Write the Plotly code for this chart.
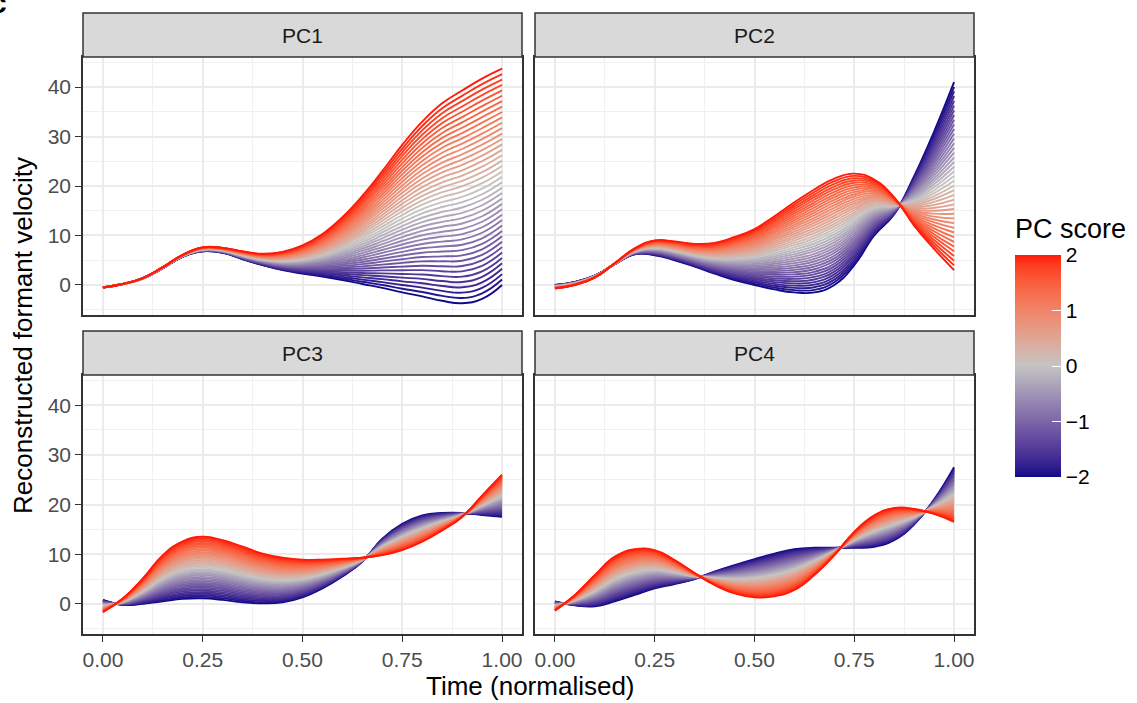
import numpy as np
import plotly.graph_objects as go

# ---------------- data ----------------
time_pts = [0.00, 0.05, 0.10, 0.15, 0.20, 0.25, 0.30, 0.35, 0.40, 0.45, 0.50,
            0.55, 0.60, 0.65, 0.70, 0.75, 0.80, 0.85, 0.90, 0.95, 1.00]

pc_names = ["PC1", "PC2", "PC3", "PC4"]

# reconstructed curve at PC score = +2
pc1_high = [-0.5, 0.2, 1.4, 3.6, 6.1, 7.6, 7.5, 6.8, 6.3, 6.7, 8.0,
            10.3, 13.7, 18.0, 23.0, 28.3, 33.0, 36.7, 39.3, 41.7, 43.7]
pc2_high = [-0.7, 0.0, 1.5, 4.4, 7.4, 9.0, 8.8, 8.3, 8.5, 9.7, 11.3,
            13.9, 16.7, 19.3, 21.5, 22.5, 21.3, 17.7, 12.0, 7.3, 3.0]
pc3_high = [-1.7, 1.1, 5.1, 9.8, 12.6, 13.5, 12.8, 11.5, 10.1, 9.3, 8.9,
            8.9, 9.1, 9.3, 9.8, 10.8, 12.5, 14.8, 17.5, 21.8, 26.0]
pc4_high = [-1.4, 1.8, 5.8, 9.5, 11.0, 10.8, 8.8, 6.2, 3.8, 2.1, 1.3,
            1.5, 2.8, 5.8, 9.8, 14.5, 17.8, 19.3, 19.1, 18.1, 16.5]

# reconstructed curve at PC score = -2
pc1_low = [-0.5, 0.2, 1.3, 3.4, 5.7, 6.8, 6.5, 5.2, 4.0, 3.0, 2.3,
           1.7, 1.0, 0.2, -0.6, -1.5, -2.3, -3.2, -3.7, -2.8, 0.0]
pc2_low = [0.0, 0.6, 1.9, 4.2, 6.2, 6.0, 5.0, 3.7, 2.3, 1.0, 0.0,
           -0.9, -1.5, -1.5, 0.0, 4.0, 10.0, 14.3, 22.0, 31.0, 41.0]
pc3_low = [0.8, -0.2, 0.0, 0.5, 1.0, 1.1, 0.8, 0.3, 0.1, 0.3, 1.3,
           3.1, 5.5, 8.5, 13.1, 16.1, 17.8, 18.3, 18.3, 17.9, 17.5]
pc4_low = [0.5, -0.3, -0.5, 0.5, 1.8, 3.1, 4.0, 5.0, 6.5, 7.8, 9.0,
           10.1, 11.0, 11.3, 11.3, 11.3, 11.5, 12.8, 16.0, 21.0, 27.5]

pc_scores = [round(-2 + 0.1 * i, 1) for i in range(41)]

x_ticks = [0.0, 0.25, 0.5, 0.75, 1.0]
x_ticktext = ["0.00", "0.25", "0.50", "0.75", "1.00"]
y_ticks = [0, 10, 20, 30, 40]
cbar_ticks = [-2, -1, 0, 1, 2]

# ---------------- colour helpers (Lab interpolation like ggplot2) ----------------
LOW, MID, HIGH = "#0E0A8A", "#C4C4C2", "#FF1A08"


def _hex2rgb(h):
    h = h.lstrip("#")
    return [int(h[i:i + 2], 16) / 255 for i in (0, 2, 4)]


def _lin(c):
    return c / 12.92 if c <= 0.04045 else ((c + 0.055) / 1.055) ** 2.4


def _delin(c):
    c = 12.92 * c if c <= 0.0031308 else 1.055 * c ** (1 / 2.4) - 0.055
    return min(1, max(0, c))


_WN = (0.95047, 1.0, 1.08883)


def _rgb2lab(rgb):
    r, g, b = [_lin(c) for c in rgb]
    X = 0.4124 * r + 0.3576 * g + 0.1805 * b
    Y = 0.2126 * r + 0.7152 * g + 0.0722 * b
    Z = 0.0193 * r + 0.1192 * g + 0.9505 * b

    def f(t):
        return t ** (1 / 3) if t > 0.008856 else 7.787 * t + 16 / 116
    fx, fy, fz = f(X / _WN[0]), f(Y / _WN[1]), f(Z / _WN[2])
    return (116 * fy - 16, 500 * (fx - fy), 200 * (fy - fz))


def _lab2rgb(lab):
    L, a, b = lab
    fy = (L + 16) / 116
    fx = fy + a / 500
    fz = fy - b / 200

    def finv(t):
        return t ** 3 if t ** 3 > 0.008856 else (t - 16 / 116) / 7.787
    X, Y, Z = finv(fx) * _WN[0], finv(fy) * _WN[1], finv(fz) * _WN[2]
    r = 3.2406 * X - 1.5372 * Y - 0.4986 * Z
    g = -0.9689 * X + 1.8758 * Y + 0.0415 * Z
    bb = 0.0557 * X - 0.2040 * Y + 1.0570 * Z
    return [_delin(c) for c in (r, g, bb)]


def _mix(c1, c2, f):
    l1, l2 = _rgb2lab(_hex2rgb(c1)), _rgb2lab(_hex2rgb(c2))
    lab = [l1[i] + (l2[i] - l1[i]) * f for i in range(3)]
    r, g, b = _lab2rgb(lab)
    return "#%02X%02X%02X" % (round(r * 255), round(g * 255), round(b * 255))


def grad2(v):
    if v < 0:
        return _mix(MID, LOW, min(1, -v / 2))
    return _mix(MID, HIGH, min(1, v / 2))


colorscale = [[i / 40, grad2(-2 + i * 0.1)] for i in range(41)]

# ---------------- figure ----------------
W, H = 1137, 703
FONT = "Liberation Sans, Arial, Helvetica, sans-serif"


def px_x(p):
    return p / W


def px_y(p):
    return (H - p) / H


panels = {
    "PC1": dict(x=(83, 522), y=(57, 315)),
    "PC2": dict(x=(535, 974), y=(57, 315)),
    "PC3": dict(x=(83, 522), y=(375, 634)),
    "PC4": dict(x=(535, 974), y=(375, 634)),
}
strip_h = 44

highs = [pc1_high, pc2_high, pc3_high, pc4_high]
lows = [pc1_low, pc2_low, pc3_low, pc4_low]

fig = go.Figure()
t = np.array(time_pts)
for k, name in enumerate(pc_names):
    hi = np.array(highs[k])
    lo = np.array(lows[k])
    mean = (hi + lo) / 2
    load = (hi - lo) / 4
    ax = "" if k == 0 else str(k + 1)
    for s in pc_scores:
        fig.add_trace(go.Scatter(
            x=t, y=mean + s * load, mode="lines",
            line=dict(color=grad2(s), width=1.9, shape="spline", smoothing=1.3),
            xaxis="x" + ax, yaxis="y" + ax, showlegend=False, hoverinfo="skip"))

# colourbar carrier
cb_top, cb_bot = 255, 477
fig.add_trace(go.Scatter(
    x=[None], y=[None], mode="markers", xaxis="x", yaxis="y", showlegend=False,
    marker=dict(color=[0], colorscale=colorscale, cmin=-2, cmax=2, showscale=True,
                colorbar=dict(
                    x=px_x(1015), xanchor="left", xpad=0,
                    y=px_y((cb_top + cb_bot) / 2), yanchor="middle", ypad=0,
                    len=cb_bot - cb_top, lenmode="pixels",
                    thickness=46, thicknessmode="pixels",
                    outlinewidth=0,
                    tickvals=cbar_ticks, ticks="inside", ticklen=9, tickwidth=1,
                    tickcolor="white",
                    tickfont=dict(family=FONT, size=21, color="black")))))

layout = dict(width=W, height=H,
              margin=dict(l=0, r=0, t=0, b=0, pad=0, autoexpand=False),
              paper_bgcolor="white", plot_bgcolor="white", showlegend=False)

shapes = []
annotations = []
for k, name in enumerate(pc_names):
    p = panels[name]
    ax = "" if k == 0 else str(k + 1)
    bottom = k >= 2
    left = k % 2 == 0
    layout["xaxis" + ax] = dict(
        domain=[px_x(p["x"][0]), px_x(p["x"][1])], anchor="y" + ax,
        range=[-0.05, 1.05], tickvals=x_ticks, ticktext=x_ticktext,
        showticklabels=bottom, ticks="outside" if bottom else "",
        ticklen=6, tickwidth=1.4, tickcolor="#333333", automargin=False,
        tickfont=dict(family=FONT, size=21, color="#4D4D4D"),
        showgrid=True, gridcolor="#EBEBEB", gridwidth=1.8, zeroline=False,
        minor=dict(tickvals=[0.125, 0.375, 0.625, 0.875], showgrid=True,
                   gridcolor="#F0F0F0", gridwidth=1.0, ticks=""),
        showline=True, mirror=True, linecolor="#333333", linewidth=1.5,
        fixedrange=True)
    layout["yaxis" + ax] = dict(
        domain=[px_y(p["y"][1]), px_y(p["y"][0])], anchor="x" + ax,
        range=[-6.07, 46.07], tickvals=y_ticks,
        showticklabels=left, ticks="outside" if left else "",
        ticklen=6, tickwidth=1.4, tickcolor="#333333", automargin=False,
        tickfont=dict(family=FONT, size=21, color="#4D4D4D"),
        showgrid=True, gridcolor="#EBEBEB", gridwidth=1.8, zeroline=False,
        minor=dict(tickvals=[-5, 5, 15, 25, 35, 45], showgrid=True,
                   gridcolor="#F0F0F0", gridwidth=1.0, ticks=""),
        showline=True, mirror=True, linecolor="#333333", linewidth=1.5,
        fixedrange=True)
    # strip
    shapes.append(dict(type="rect", xref="paper", yref="paper",
                       x0=px_x(p["x"][0]), x1=px_x(p["x"][1]),
                       y0=px_y(p["y"][0]), y1=px_y(p["y"][0] - strip_h),
                       fillcolor="#D9D9D9", line=dict(color="#333333", width=1.5),
                       layer="above"))
    annotations.append(dict(text=name, xref="paper", yref="paper",
                            x=px_x((p["x"][0] + p["x"][1]) / 2),
                            y=px_y(p["y"][0] - strip_h / 2),
                            xanchor="center", yanchor="middle", showarrow=False,
                            font=dict(family=FONT, size=21, color="#1A1A1A")))

# white tick marks on the left side of the colour bar (ggplot style)
for v in cbar_ticks:
    yy = cb_bot - (v + 2) / 4 * (cb_bot - cb_top)
    shapes.append(dict(type="line", xref="paper", yref="paper",
                       x0=px_x(1015), x1=px_x(1024), y0=px_y(yy), y1=px_y(yy),
                       line=dict(color="white", width=1)))

annotations.append(dict(text="PC score", xref="paper", yref="paper",
                        x=px_x(1013), y=px_y(229), xanchor="left", yanchor="middle",
                        showarrow=False, font=dict(family=FONT, size=27, color="black")))
annotations.append(dict(text="Time (normalised)", xref="paper", yref="paper",
                        x=px_x(530), y=px_y(686), xanchor="center", yanchor="middle",
                        showarrow=False, font=dict(family=FONT, size=26, color="black")))
annotations.append(dict(text="Reconstructed formant velocity", xref="paper", yref="paper",
                        x=px_x(23), y=px_y(336), xanchor="center", yanchor="middle",
                        textangle=-90, showarrow=False,
                        font=dict(family=FONT, size=26, color="black")))
annotations.append(dict(text="<b>c</b>", xref="paper", yref="paper",
                        x=0, y=1, xanchor="right", yanchor="middle",
                        xshift=9, yshift=-2, showarrow=False,
                        font=dict(family=FONT, size=30, color="black")))

layout["shapes"] = shapes
layout["annotations"] = annotations
fig.update_layout(**layout)

fig.write_html("out.html",
               config={"displayModeBar": False},
               post_script="document.body.style.margin='0px';"
                           "document.body.style.padding='0px';"
                           "document.body.style.overflow='hidden';")
